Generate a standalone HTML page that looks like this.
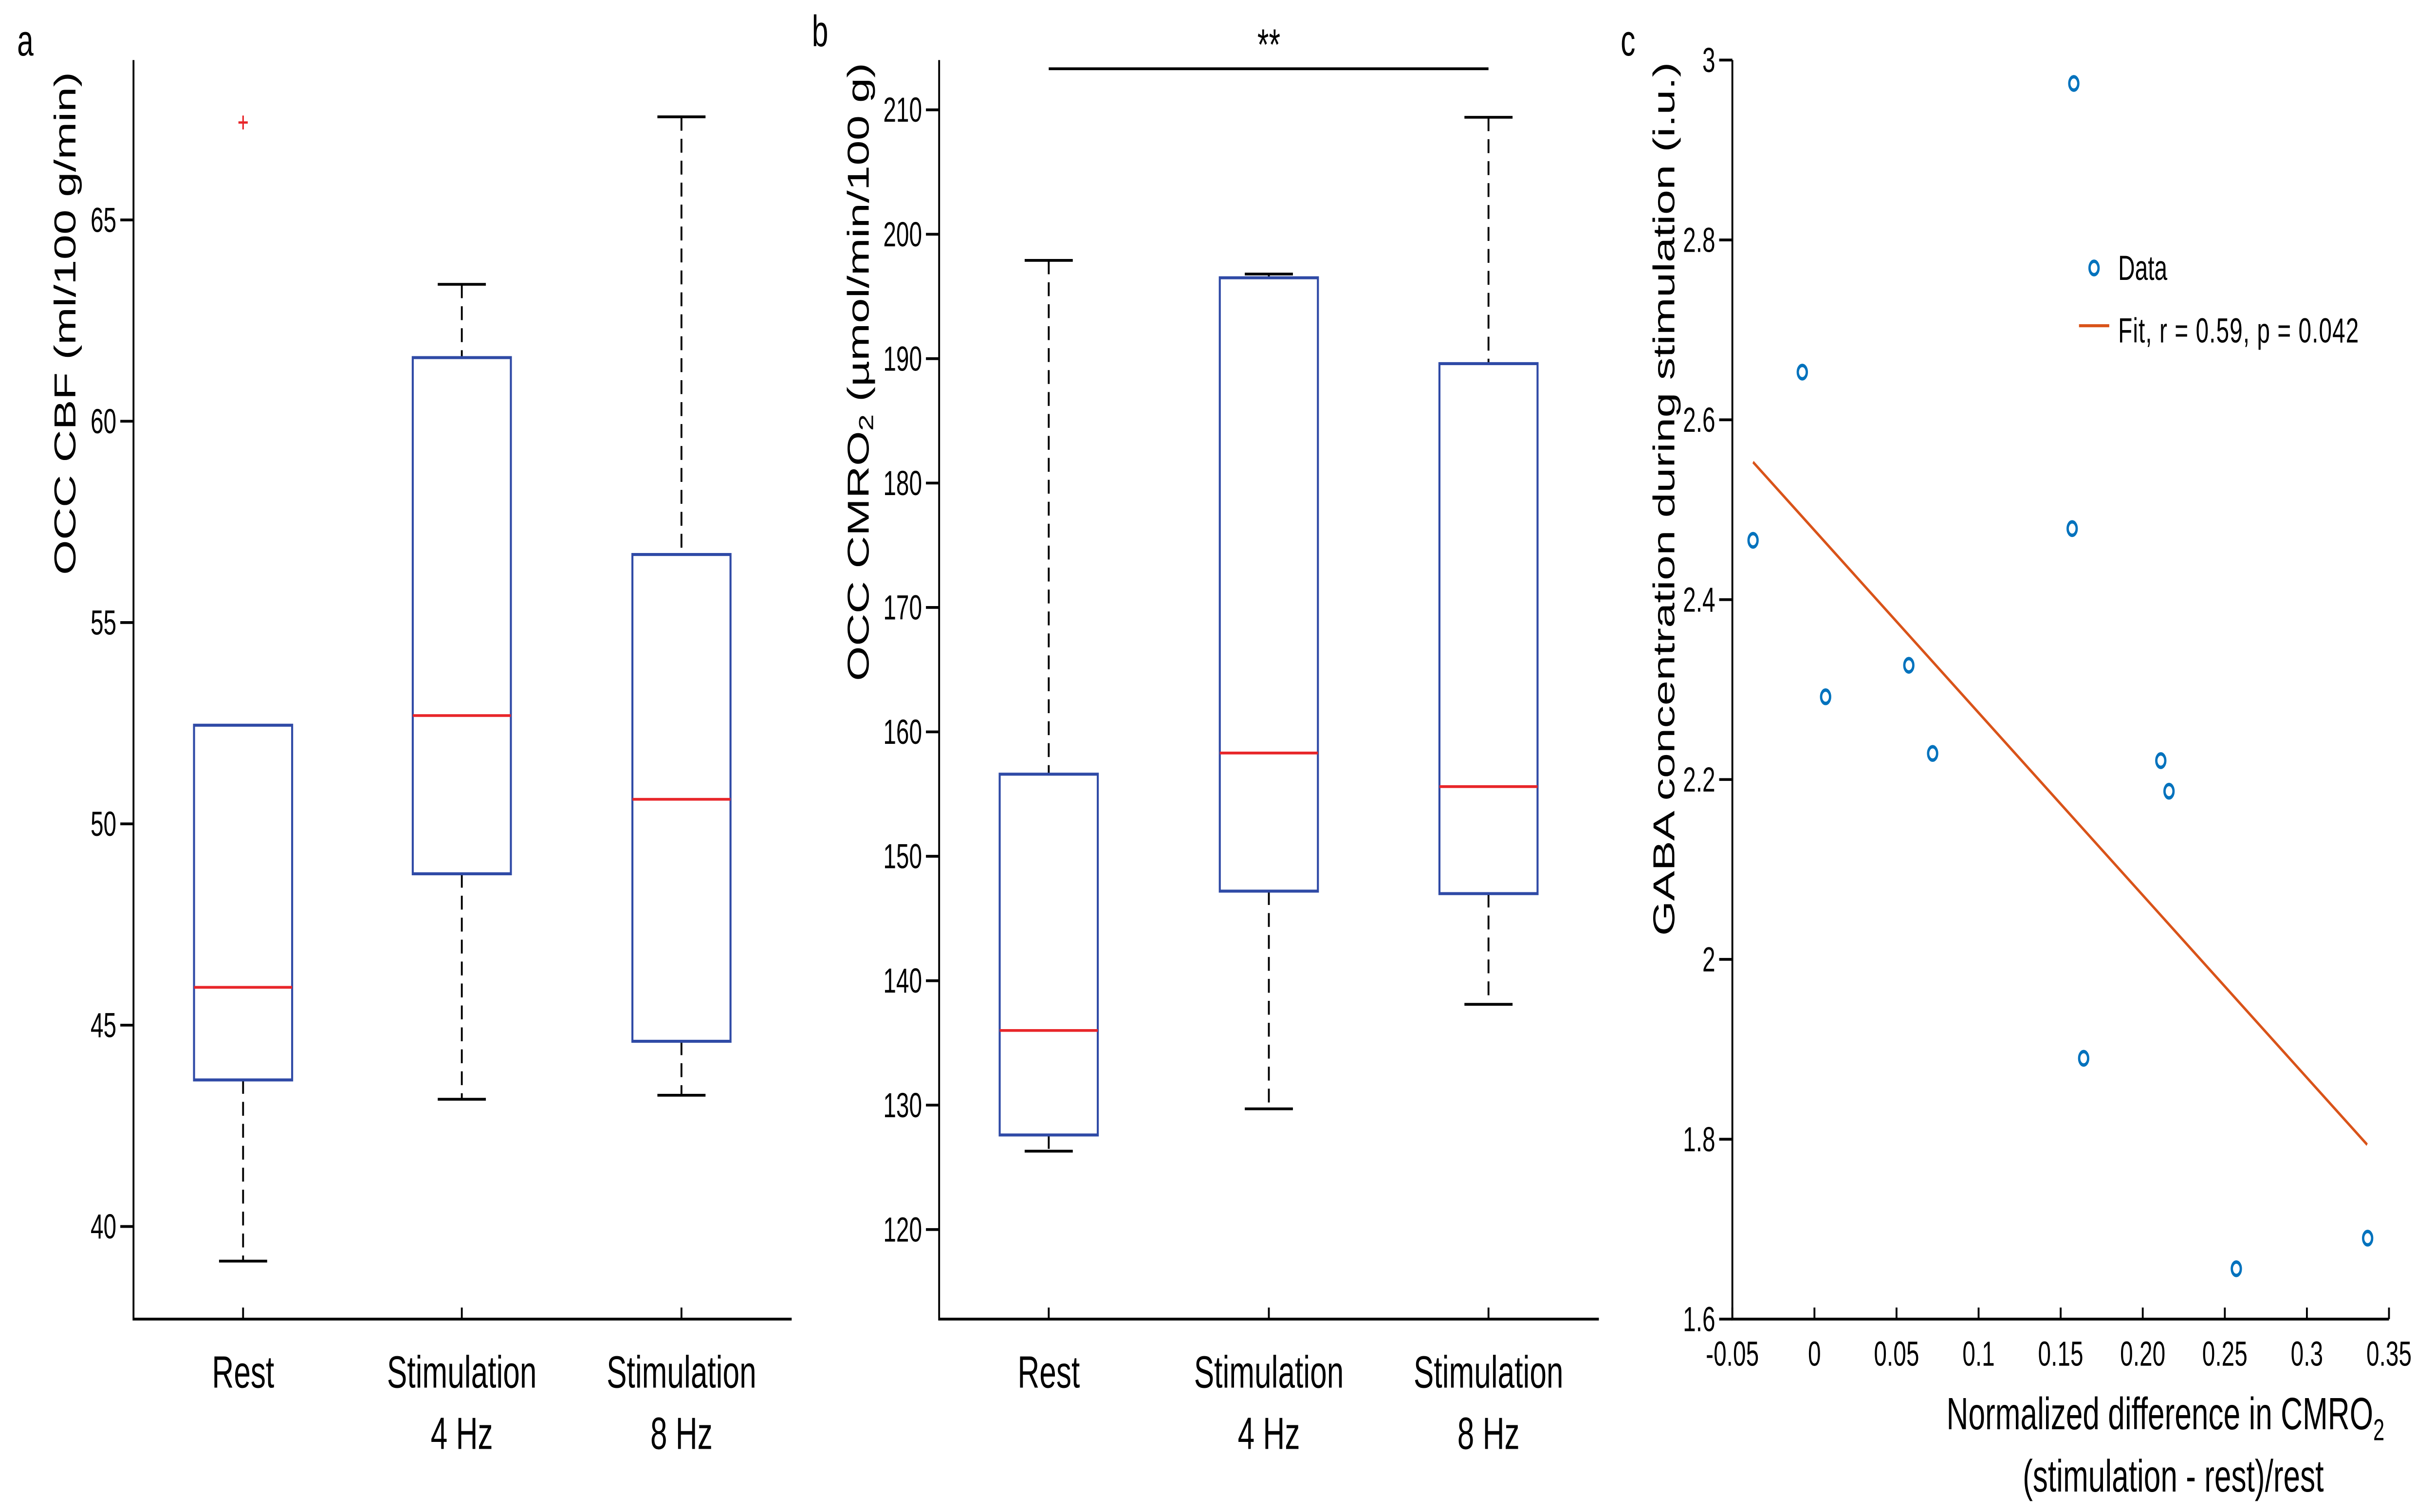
<!DOCTYPE html>
<html><head><meta charset="utf-8"><style>
html,body{margin:0;padding:0;background:#fff;width:100%;height:100%;overflow:hidden;}
svg{display:block;position:absolute;left:0;top:0;width:100vw;height:100vh;font-family:"Liberation Sans",sans-serif;}
</style></head><body>
<svg id="fig" viewBox="0 0 1568 654.5" preserveAspectRatio="none" xmlns="http://www.w3.org/2000/svg">
<text x="11" y="24" font-size="19">a</text>
<text x="523" y="20" font-size="19">b</text>
<text x="1044" y="24" font-size="19">c</text>
<g id="pa"></g>
<g id="pb"></g>
<g id="pc"></g>
</svg>
<script>
const NS="http://www.w3.org/2000/svg";
const categories=["Rest","Stimulation|4 Hz","Stimulation|8 Hz"];
// panel a
const cbfLow=[39.14,43.16,43.26];
const cbfQ1=[43.64,48.76,44.6];
const cbfMed=[45.94,52.69,50.61];
const cbfQ3=[52.45,61.58,56.69];
const cbfHigh=[52.45,63.4,67.56];
const cbfOutliers=[[0,67.42]];
const cbfTicks=[40,45,50,55,60,65];
// panel b
const cmLow=[126.3,129.7,138.1];
const cmQ1=[127.6,147.2,147.0];
const cmMed=[136.0,158.3,155.6];
const cmQ3=[156.6,196.5,189.6];
const cmHigh=[197.9,196.8,209.4];
const cmTicks=[120,130,140,150,160,170,180,190,200,210];
const sigValue=213.3;
// panel c
const scatX=[-0.0374,-0.0074,0.0068,0.0575,0.072,0.157,0.158,0.164,0.211,0.216,0.257,0.337];
const scatY=[2.466,2.653,2.292,2.327,2.229,2.479,2.974,1.890,2.221,2.187,1.656,1.690];
const fitX=[-0.0374,0.3367];
const fitY=[2.553,1.794];
const cxTicks=[-0.05,0,0.05,0.1,0.15,0.20,0.25,0.3,0.35];
const cxTickLabels=["-0.05","0","0.05","0.1","0.15","0.20","0.25","0.3","0.35"];
const cyTicks=[1.6,1.8,2,2.2,2.4,2.6,2.8,3];
const cyTickLabels=["1.6","1.8","2","2.2","2.4","2.6","2.8","3"];

function mk(parent,tag,attrs,text){const e=document.createElementNS(NS,tag);for(const k in attrs)e.setAttribute(k,attrs[k]);if(text!==undefined)e.textContent=text;parent.appendChild(e);return e;}

function boxPanel(g,o){
  const {L,R,T,B,ymin,ymax,cx,low,q1,med,q3,high,ticks,ylabel,ylx,yly}=o;
  const Y=v=>B-(v-ymin)/(ymax-ymin)*(B-T);
  const ax=mk(g,'path',{d:`M${L},${T}V${B}H${R}`,stroke:'#000',fill:'none','stroke-width':1.2});
  
  
  ticks.forEach(t=>{
    const tk=mk(g,'line',{x1:L-8.5,x2:L,y1:Y(t),y2:Y(t),stroke:'#000','stroke-width':1.2});
    
    
    const tl=mk(g,'text',{x:L-11,y:Y(t),'font-size':15,'text-anchor':'end','dominant-baseline':'central'},String(t));
    
    
  });
  const hw=31.6, cw=15.5;
  categories.forEach((c,i)=>{
    const x=cx[i];
    const xt=mk(g,'line',{x1:x,x2:x,y1:B,y2:B-5,stroke:'#000','stroke-width':1.2});
    
    
    const parts=c.split('|');
    parts.forEach((p,j)=>{
      const t=mk(g,'text',{x:x,y:594+j*26.5,'font-size':19.5,'text-anchor':'middle','dominant-baseline':'central'},p);
      
      
    });
    const wu=mk(g,'line',{x1:x,x2:x,y1:Y(high[i]),y2:Y(q3[i]),stroke:'#000','stroke-width':1.2,'stroke-dasharray':'6,3.5'});
    
    
    const wl=mk(g,'line',{x1:x,x2:x,y1:Y(q1[i]),y2:Y(low[i]),stroke:'#000','stroke-width':1.2,'stroke-dasharray':'6,3.5'});
    
    
    if(high[i]>q3[i]+0.01){
      const cu=mk(g,'line',{x1:x-cw,x2:x+cw,y1:Y(high[i]),y2:Y(high[i]),stroke:'#000','stroke-width':1.2});
      
      
    }
    const cl=mk(g,'line',{x1:x-cw,x2:x+cw,y1:Y(low[i]),y2:Y(low[i]),stroke:'#000','stroke-width':1.2});
    
    
    const bx=mk(g,'rect',{x:x-hw,y:Y(q3[i]),width:2*hw,height:Y(q1[i])-Y(q3[i]),fill:'none',stroke:'#2f4aa6','stroke-width':1.3});
    
    
    const md=mk(g,'line',{x1:x-hw,x2:x+hw,y1:Y(med[i]),y2:Y(med[i]),stroke:'#e8262a','stroke-width':1.2});
    
    
  });
  const yl=mk(g,'text',{x:ylx,y:yly,'font-size':19.5,'text-anchor':'middle','dominant-baseline':'central',transform:`rotate(-90 ${ylx} ${yly})`});
  
  
  yl.innerHTML=ylabel;
  return Y;
}

const Ya=boxPanel(document.getElementById('pa'),{L:86,R:510,T:26,B:571,ymin:37.7,ymax:68.97,cx:[156.6,297.5,439],low:cbfLow,q1:cbfQ1,med:cbfMed,q3:cbfQ3,high:cbfHigh,ticks:cbfTicks,ylabel:'OCC CBF (ml/100 g/min)',ylx:42,yly:140});
cbfOutliers.forEach(([ci,v])=>{
  const x=[156.6,297.5,439][ci],y=Ya(v);
  const o=mk(document.getElementById('pa'),'path',{d:`M${x-3},${y}H${x+3}M${x},${y-3}V${y+3}`,stroke:'#e8262a','stroke-width':1});
  
  
});

const pb=document.getElementById('pb');
const Yb=boxPanel(pb,{L:605,R:1030,T:26,B:571,ymin:112.8,ymax:214,cx:[675.6,817.4,958.9],low:cmLow,q1:cmQ1,med:cmMed,q3:cmQ3,high:cmHigh,ticks:cmTicks,ylabel:'OCC CMRO<tspan font-size="13" dy="5">2</tspan><tspan dy="-5"> (µmol/min/100 g)</tspan>',ylx:553,yly:161});
const sl=mk(pb,'line',{x1:675.6,x2:958.9,y1:Yb(sigValue),y2:Yb(sigValue),stroke:'#000','stroke-width':1.2});


const st=mk(pb,'text',{x:817.4,y:Yb(sigValue)-4,'font-size':19,'text-anchor':'middle'},'**');



// panel c
const pc=document.getElementById('pc');
const cL=1116,cR=1539,cT=26,cB=571;
const X=v=>cL+(v-(-0.05))/(0.35-(-0.05))*(cR-cL);
const Yc=v=>cB-(v-1.6)/(3-1.6)*(cB-cT);
const cax=mk(pc,'path',{d:`M${cL},${cT}V${cB}H${cR}`,stroke:'#000',fill:'none','stroke-width':1.2});


cxTicks.forEach((t,i)=>{
  const tk=mk(pc,'line',{x1:X(t),x2:X(t),y1:cB,y2:cB-5,stroke:'#000','stroke-width':1.2});
  
  
  const tl=mk(pc,'text',{x:X(t),y:586,'font-size':15,'text-anchor':'middle','dominant-baseline':'central'},cxTickLabels[i]);
  
  
});
cyTicks.forEach((t,i)=>{
  const tk=mk(pc,'line',{x1:cL-8.5,x2:cL,y1:Yc(t),y2:Yc(t),stroke:'#000','stroke-width':1.2});
  
  
  const tl=mk(pc,'text',{x:cL-11,y:Yc(t),'font-size':15,'text-anchor':'end','dominant-baseline':'central'},cyTickLabels[i]);
  
  
});
const fit=mk(pc,'line',{x1:X(fitX[0]),y1:Yc(fitY[0]),x2:X(fitX[1]),y2:Yc(fitY[1]),stroke:'#D95319','stroke-width':1.3});


scatX.forEach((v,i)=>{
  const c=mk(pc,'circle',{cx:X(v),cy:Yc(scatY[i]),r:2.9,fill:'none',stroke:'#0072BD','stroke-width':1.5});
  
  
});
const lg=mk(pc,'g',{});


const lm=mk(lg,'circle',{cx:1349,cy:116,r:2.9,fill:'none',stroke:'#0072BD','stroke-width':1.5});


const lt1=mk(lg,'text',{x:1364.5,y:116,'font-size':15,'dominant-baseline':'central'},'Data');


const ll=mk(lg,'line',{x1:1339.3,x2:1358.8,y1:141,y2:141,stroke:'#D95319','stroke-width':1.3});


const lt2=mk(lg,'text',{x:1364.5,y:143,'font-size':15,'dominant-baseline':'central',textLength:155},'Fit, r = 0.59, p = 0.042');


const cyl=mk(pc,'text',{x:1072,y:216,'font-size':19.5,'text-anchor':'middle','dominant-baseline':'central',transform:'rotate(-90 1072 216)'},'GABA concentration during stimulation (i.u.)');


const cxl=mk(pc,'text',{x:1395,y:612,'font-size':19.5,'text-anchor':'middle','dominant-baseline':'central'});


cxl.innerHTML='Normalized difference in CMRO<tspan font-size="13" dy="7">2</tspan>';
const cxl2=mk(pc,'text',{x:1400,y:639,'font-size':19.5,'text-anchor':'middle','dominant-baseline':'central'},'(stimulation - rest)/rest');


</script>
</body></html>
